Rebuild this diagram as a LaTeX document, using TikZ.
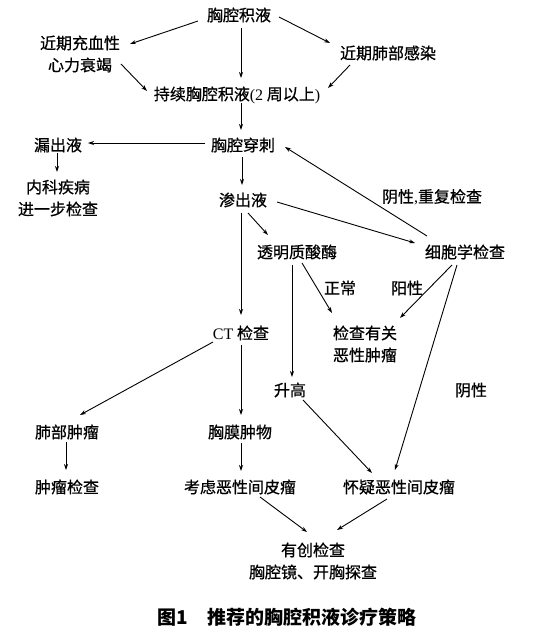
\documentclass[tikz,border=0pt]{standalone}
\usepackage{fontspec}
\newfontfamily\cjk[FakeBold=0.7]{Noto Sans CJK SC}
\newfontfamily\cjkcap{Noto Sans CJK SC}
\newfontfamily\lat{Liberation Serif}
\usetikzlibrary{arrows.meta,calc}
\begin{document}
\begin{tikzpicture}[x=1pt,y=-1pt,
  lbl/.style={font={\cjk\fontsize{16}{22}\selectfont}, inner sep=0pt, align=center, text=black},
  captxt/.style={font={\cjkcap\bfseries\fontsize{19}{22}\selectfont}, inner sep=0pt, text=black},
  arr/.style={-{Stealth[length=6pt,width=4pt]}, line width=0.9pt, draw=black}]
\useasboundingbox[fill=white] (0,0) rectangle (554,638);
% nodes
\node[lbl] (n1) at (239,15) {胸腔积液};
\node[lbl] (n2) at (80,54) {近期充血性\\心力衰竭};
\node[lbl] (n3) at (388,53) {近期肺部感染};
\node[lbl] (n4) at (237,95) {持续胸腔积液{\lat(2} 周以上{\lat)}};
\node[lbl] (n5) at (243,145) {胸腔穿刺};
\node[lbl] (n6) at (58,145) {漏出液};
\node[lbl] (n7) at (58,198) {内科疾病\\进一步检查};
\node[lbl] (l1) at (432,197) {阴性{\lat,}重复检查};
\node[lbl] (n8) at (243,200) {渗出液};
\node[lbl] (n9) at (297,252) {透明质酸酶};
\node[lbl] (n10) at (465,252) {细胞学检查};
\node[lbl] (l2) at (340,288) {正常};
\node[lbl] (l3) at (407,288) {阳性};
\node[lbl] (n11) at (241,333) {{\lat CT} 检查};
\node[lbl] (n12) at (365,344) {检查有关\\恶性肿瘤};
\node[lbl] (n13) at (290,390) {升高};
\node[lbl] (l4) at (471,390) {阴性};
\node[lbl] (n14) at (67,432) {肺部肿瘤};
\node[lbl] (n15) at (240,432) {胸膜肿物};
\node[lbl] (n16) at (67,487) {肿瘤检查};
\node[lbl] (n17) at (240,487) {考虑恶性间皮瘤};
\node[lbl] (n18) at (399,487) {怀疑恶性间皮瘤};
\node[lbl] (n19) at (313,561) {有创检查\\胸腔镜、开胸探查};
\node[captxt] (c) at (287,617) {图1\hspace{1em}推荐的胸腔积液诊疗策略};
% arrows
\draw[arr] ($(n1)+(-41,6)$) -- ($(n2)+(50,-10)$);
\draw[arr] ($(n1)+(40,2)$) -- ($(n3)+(-58,-10)$);
\draw[arr] ($(n1)+(2,13)$) -- ($(n4)+(4,-17)$);
\draw[arr] ($(n2)+(41,10)$) -- ($(n4)+(-90,-4)$);
\draw[arr] ($(n3)+(-38,12)$) -- ($(n4)+(91,-7)$);
\draw[arr] ($(n4)+(4,8)$) -- ($(n5)+(-2,-15)$);
\draw[arr] ($(n5)+(-38,-2)$) -- ($(n6)+(30,-2)$);
\draw[arr] ($(n6)+(-1,8)$) -- ($(n7)+(-1,-26)$);
\draw[arr] ($(n5)+(-1,12)$) -- ($(n8)+(-1,-15)$);
\draw[arr] ($(n10)+(-38,-16)$) -- ($(n5)+(42,2)$);
\draw[arr] ($(n8)+(34,2)$) -- ($(n10)+(-50,-9)$);
\draw[arr] ($(n8)+(5,13)$) -- ($(n9)+(-29,-17)$);
\draw[arr] ($(n8)+(-2,13)$) -- ($(n11)+(0,-18)$);
\draw[arr] ($(n9)+(5,11)$) -- ($(n12)+(-33,-31)$);
\draw[arr] ($(n9)+(-5,13)$) -- ($(n13)+(2,-13)$);
\draw[arr] ($(n10)+(-13,13)$) -- ($(n12)+(35,-26)$);
\draw[arr] ($(n10)+(-8,13)$) -- ($(n18)+(-4,-17)$);
\draw[arr] ($(n11)+(-28,9)$) -- ($(n14)+(13,-17)$);
\draw[arr] ($(n11)+(0,12)$) -- ($(n15)+(1,-17)$);
\draw[arr] ($(n13)+(13,10)$) -- ($(n18)+(-27,-14)$);
\draw[arr] ($(n14)+(-1,10)$) -- ($(n16)+(-1,-17)$);
\draw[arr] ($(n15)+(1,11)$) -- ($(n17)+(1,-16)$);
\draw[arr] ($(n17)+(20,10)$) -- ($(n19)+(-6,-29)$);
\draw[arr] ($(n18)+(-12,12)$) -- ($(n19)+(24,-31)$);
\end{tikzpicture}
\end{document}
